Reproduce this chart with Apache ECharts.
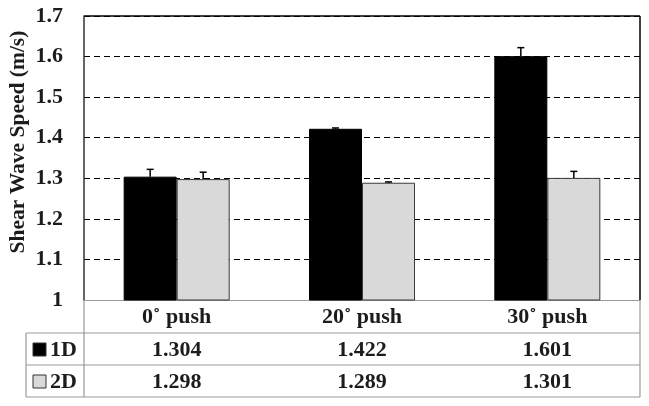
<!DOCTYPE html>
<html><head><meta charset="utf-8">
<script src="https://cdn.jsdelivr.net/npm/echarts@6/dist/echarts.min.js"></script>
<style>html,body{margin:0;padding:0;background:#fff}#c{width:649px;height:406px}</style>
</head><body><div id="c"></div>
<script>
var categories = ['0\u02da push', '20\u02da push', '30\u02da push'];
var seriesNames = ['1D', '2D'];
var values1D = [1.304, 1.422, 1.601];
var values2D = [1.298, 1.289, 1.301];
var err1D = [0.018, 0.002, 0.021];
var err2D = [0.017, 0.002, 0.016];
var yTicks = [1, 1.1, 1.2, 1.3, 1.4, 1.5, 1.6, 1.7];

var FONT = '"Liberation Serif", "Times New Roman", serif';
var chart = echarts.init(document.getElementById('c'), null, {renderer: 'canvas'});

function errSeries(vals, errs, idx) {
  return {
    type: 'custom', z: 5,
    data: vals.map(function (v, i) { return [i, v, errs[i]]; }),
    renderItem: function (params, api) {
      var base = api.coord([api.value(0), api.value(1)]);
      var tp = api.coord([api.value(0), api.value(1) + api.value(2)]);
      var bw = api.size([1, 0])[0] * 0.286;
      var x = base[0] + (idx === 0 ? -bw / 2 : bw / 2);
      var st = {stroke: '#000', lineWidth: 1.5};
      return {type: 'group', children: [
        {type: 'line', shape: {x1: x, y1: base[1], x2: x, y2: tp[1]}, style: st},
        {type: 'line', shape: {x1: x - 3.5, y1: tp[1], x2: x + 3.5, y2: tp[1]}, style: st}
      ]};
    }
  };
}

var option = {
  animation: false,
  grid: {left: 84, right: 9, top: 16, bottom: 106, show: false, containLabel: false, outerBoundsMode: 'none'},
  xAxis: {
    type: 'category', data: categories,
    axisLine: {show: true, lineStyle: {color: '#9a9a9a', width: 1.2}},
    axisTick: {show: false},
    axisLabel: {margin: 6, fontFamily: FONT, fontWeight: 'bold', fontSize: 22, color: '#1c1c1c'}
  },
  yAxis: {
    type: 'value', min: yTicks[0], max: yTicks[yTicks.length - 1], interval: 0.1,
    name: 'Shear Wave Speed (m/s)', nameLocation: 'middle', nameGap: 55, nameMoveOverlap: false,
    nameTextStyle: {fontFamily: FONT, fontWeight: 'bold', fontSize: 21.5, color: '#1c1c1c', padding: [0, 0, 0, 32]},
    axisLine: {show: true, lineStyle: {color: '#333', width: 1.5}},
    axisTick: {show: false},
    axisLabel: {margin: 21, fontFamily: FONT, fontWeight: 'bold', fontSize: 22, color: '#1c1c1c',
      formatter: function (v) { return Math.abs(v - 1) < 1e-9 ? '1' : v.toFixed(1); }},
    splitLine: {show: true, lineStyle: {color: '#000', type: [6, 4], width: 1}}
  },
  series: [
    {name: seriesNames[0], type: 'bar', data: values1D, barWidth: '28.6%', barGap: '0%',
     itemStyle: {color: '#000', borderColor: '#000', borderWidth: 1}},
    {name: seriesNames[1], type: 'bar', data: values2D, barWidth: '28.6%', barGap: '0%',
     itemStyle: {color: '#d9d9d9', borderColor: '#3a3a3a', borderWidth: 1}},
    errSeries(values1D, err1D, 0),
    errSeries(values2D, err2D, 1)
  ]
};
chart.setOption(option);

// Table below the plot, positioned from the axes
var pLeft = chart.convertToPixel({xAxisIndex: 0}, 0) - (chart.convertToPixel({xAxisIndex: 0}, 1) - chart.convertToPixel({xAxisIndex: 0}, 0)) / 2;
var pRight = 640;
var pTop = chart.convertToPixel({yAxisIndex: 0}, yTicks[yTicks.length - 1]);
var yBase = chart.convertToPixel({yAxisIndex: 0}, yTicks[0]);
var tLeft = 26, rowH = 32;
var r1 = yBase + 33, r2 = r1 + rowH, r3 = r2 + rowH;
var lineSt = {stroke: '#9a9a9a', lineWidth: 1.2};
var g = [];
g.push({type: 'line', shape: {x1: pLeft, y1: pTop, x2: pRight, y2: pTop}, style: {stroke: '#000', lineWidth: 1.5}});
g.push({type: 'line', shape: {x1: pRight, y1: pTop, x2: pRight, y2: yBase}, style: {stroke: '#000', lineWidth: 1.5}});
[r1, r2, r3].forEach(function (y) {
  g.push({type: 'line', shape: {x1: tLeft, y1: y, x2: pRight, y2: y}, style: lineSt});
});
g.push({type: 'line', shape: {x1: tLeft, y1: r1, x2: tLeft, y2: r3}, style: lineSt});
g.push({type: 'line', shape: {x1: pLeft, y1: yBase, x2: pLeft, y2: r3}, style: lineSt});
g.push({type: 'line', shape: {x1: pRight, y1: yBase, x2: pRight, y2: r3}, style: lineSt});
var keyFill = ['#000', '#d9d9d9'];
var rows = [values1D, values2D];
[r1, r2].forEach(function (y, k) {
  var cy = y + rowH / 2 + 1;
  g.push({type: 'rect', shape: {x: 33, y: cy - 7, width: 13, height: 13},
    style: {fill: keyFill[k], stroke: '#333', lineWidth: 1}});
  g.push({type: 'text', style: {text: seriesNames[k], x: 50, y: cy, textVerticalAlign: 'middle',
    font: 'bold 22px ' + FONT, fill: '#1c1c1c'}});
  rows[k].forEach(function (v, i) {
    var x = chart.convertToPixel({xAxisIndex: 0}, i);
    g.push({type: 'text', style: {text: v.toFixed(3), x: x, y: cy, textAlign: 'center',
      textVerticalAlign: 'middle', font: 'bold 22px ' + FONT, fill: '#1c1c1c'}});
  });
});
chart.setOption({graphic: g});
</script></body></html>
